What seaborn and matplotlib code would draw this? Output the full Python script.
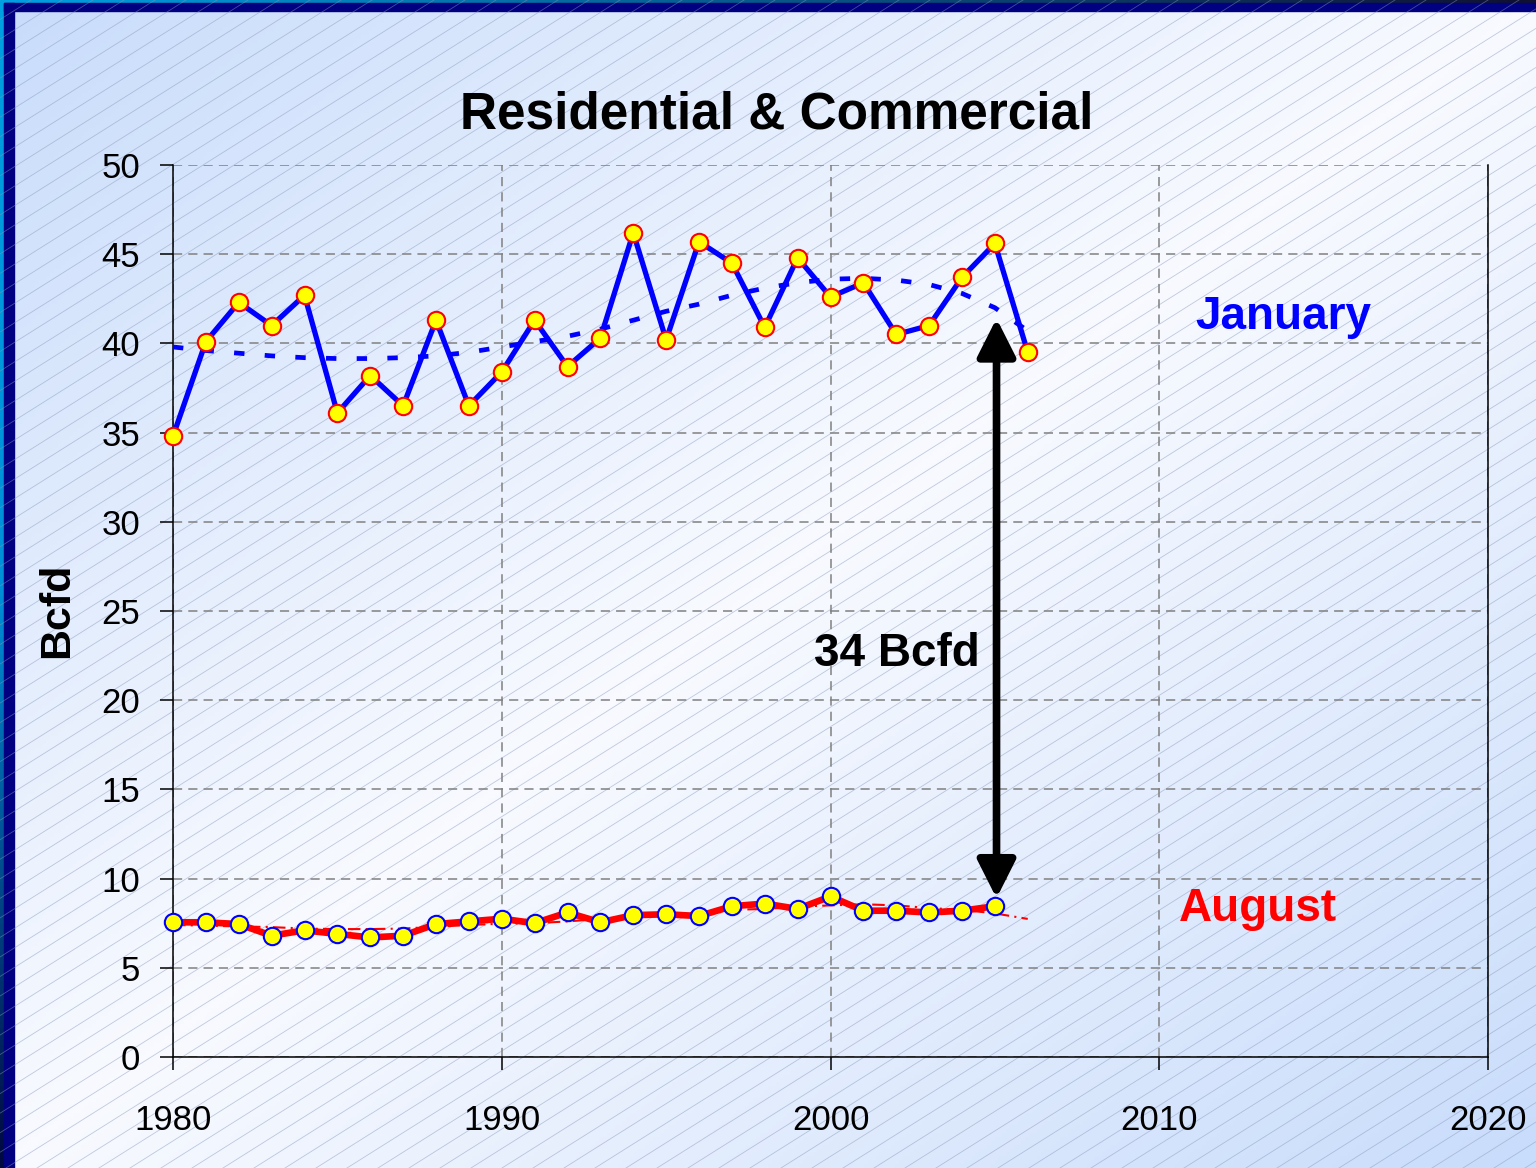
import numpy as np
import pandas as pd
import matplotlib
matplotlib.use('Agg')
import matplotlib.pyplot as plt
from matplotlib.colors import LinearSegmentedColormap
import seaborn as sns

# ---- data ----
years = list(range(1980, 2007))
jan = [34.8, 40.1, 42.3, 41.0, 42.7, 36.1, 38.2, 36.5, 41.3, 36.5,
       38.4, 41.3, 38.7, 40.3, 46.2, 40.2, 45.7, 44.5, 40.9, 44.8,
       42.6, 43.4, 40.5, 41.0, 43.7, 45.6, 39.5]
jan_trend = [39.8, 39.6, 39.45, 39.3, 39.2, 39.15, 39.15, 39.2, 39.3, 39.5,
             39.8, 40.1, 40.4, 40.8, 41.3, 41.8, 42.2, 42.7, 43.1, 43.4,
             43.6, 43.65, 43.55, 43.3, 42.8, 42.0, 40.7]

aug_years = list(range(1980, 2006))
aug = [7.55, 7.55, 7.45, 6.8, 7.1, 6.9, 6.7, 6.8, 7.45, 7.6,
       7.75, 7.5, 8.1, 7.55, 7.95, 8.0, 7.9, 8.45, 8.6, 8.3,
       9.0, 8.2, 8.2, 8.1, 8.2, 8.45]
aug_trend = [7.4, 7.36, 7.32, 7.28, 7.2, 7.17, 7.17, 7.2, 7.3, 7.4,
             7.47, 7.5, 7.6, 7.74, 7.87, 8.0, 8.1, 8.25, 8.3, 8.42,
             8.5, 8.56, 8.5, 8.35, 8.25, 8.05, 7.74]

jan_df = pd.DataFrame({'Year': years, 'Bcfd': jan, 'Trend': jan_trend})
aug_df = pd.DataFrame({'Year': aug_years, 'Bcfd': aug})
aug_tr_df = pd.DataFrame({'Year': years, 'Trend': aug_trend})

sns.set_style('white')
plt.rcParams['font.family'] = ['Liberation Sans', 'DejaVu Sans']
plt.rcParams.update({'text.color': 'black', 'axes.labelcolor': 'black',
                     'xtick.color': 'black', 'ytick.color': 'black'})

W, H = 1536, 1168
fig = plt.figure(figsize=(W / 100, H / 100), dpi=100)

#%% background: diagonal gradient + hatching + border
bg = fig.add_axes([0, 0, 1, 1], zorder=-10)
xx, yy = np.meshgrid(np.linspace(0, 1, 400), np.linspace(0, 1, 300))
t = np.abs(xx + yy - 1)
cmap = LinearSegmentedColormap.from_list('bgc', ['#f8faff', '#c8dcfb'])
bg.imshow(t, cmap=cmap, extent=[0, W, H, 0], aspect='auto', vmin=0, vmax=1)
slope = 0.63
for c in np.arange(0, H + slope * W + 40, 31 * slope):
    bg.plot([0, W], [c, c - slope * W], color='#8898bb', lw=0.6, alpha=0.5)
# border strips
top_edge = np.linspace(0, 1, 200).reshape(1, -1)
bg.imshow(top_edge, cmap=LinearSegmentedColormap.from_list('e1', ['#00a0e0', '#101030']),
          extent=[0, W, 3, 0], aspect='auto')
left_edge = np.linspace(0, 1, 200).reshape(-1, 1)
bg.imshow(left_edge, cmap=LinearSegmentedColormap.from_list('e2', ['#00a0e0', '#0090d8', '#000840']),
          extent=[0, 4, H, 0], aspect='auto')
bg.fill_between([4, W], 3, 11, color='#000080')
bg.fill_between([4, 14], 3, H, color='#000080')
bg.set_xlim(0, W)
bg.set_ylim(H, 0)
bg.axis('off')

#%% main chart
ax = fig.add_axes([173 / W, 1 - 1057 / H, (1488 - 173) / W, (1057 - 165) / H])
ax.set_facecolor('none')

sns.lineplot(data=jan_df, x='Year', y='Trend', ax=ax, color='#0000ff', lw=3.4,
             linestyle=(0, (2.2, 4.3)), dash_capstyle='butt', errorbar=None,
             clip_on=False, zorder=3)
sns.lineplot(data=aug_tr_df, x='Year', y='Trend', ax=ax, color='#ff0000', lw=1.5,
             linestyle=(0, (6, 2.5, 1, 2.5)), errorbar=None, clip_on=False, zorder=3)
sns.lineplot(data=jan_df, x='Year', y='Bcfd', ax=ax, color='#0000ff', lw=3.8,
             marker='o', markersize=12.5, markerfacecolor='#ffff00',
             markeredgecolor='#ff0000', markeredgewidth=1.5, errorbar=None,
             clip_on=False, zorder=4)
sns.lineplot(data=aug_df, x='Year', y='Bcfd', ax=ax, color='#ff0000', lw=4.8,
             marker='o', markersize=12.5, markerfacecolor='#ffff00',
             markeredgecolor='#0000ff', markeredgewidth=1.5, errorbar=None,
             clip_on=False, zorder=4)

ax.set_xlim(1980, 2020)
ax.set_ylim(0, 50)
ax.set_xticks(range(1980, 2021, 10))
ax.set_yticks(range(0, 51, 5))
ax.grid(True, color='#808080', ls=(0, (6, 4)), lw=1.1)
for s in ['left', 'bottom', 'right']:
    ax.spines[s].set_visible(True)
    ax.spines[s].set_color('black')
    ax.spines[s].set_linewidth(1.1)
ax.spines['top'].set_visible(False)
ax.tick_params(axis='both', direction='out', length=9.5, width=1.1, color='black',
               labelcolor='black', labelsize=25, left=True, bottom=True)
ax.tick_params(axis='y', pad=14)
ax.tick_params(axis='x', pad=24)
ax.set_xlabel('')
ax.set_ylabel('')

# 34 Bcfd double arrow
ax.annotate('', xy=(2005.05, 8.9), xytext=(2005.05, 41.4),
            arrowprops=dict(arrowstyle='<|-|>,head_length=1.15,head_width=0.58',
                            lw=5.5, color='black', mutation_scale=20,
                            shrinkA=0, shrinkB=0), zorder=5)
ax.text(2004.55, 22.6, '34 Bcfd', ha='right', va='center', fontsize=33,
        fontweight='bold', color='black')
ax.text(2011.1, 41.5, 'January', ha='left', va='center', fontsize=33,
        fontweight='bold', color='#0000ff')
ax.text(2010.6, 8.3, 'August', ha='left', va='center', fontsize=33,
        fontweight='bold', color='#ff0000')

fig.text(777 / W, 1 - 115 / H, 'Residential & Commercial', ha='center', va='center',
         fontsize=37, fontweight='bold', color='black')
fig.text(57 / W, 1 - 610 / H, 'Bcfd', ha='center', va='center', rotation=90,
         fontsize=31, fontweight='bold', color='black')

fig.savefig('out.png', dpi=100)
